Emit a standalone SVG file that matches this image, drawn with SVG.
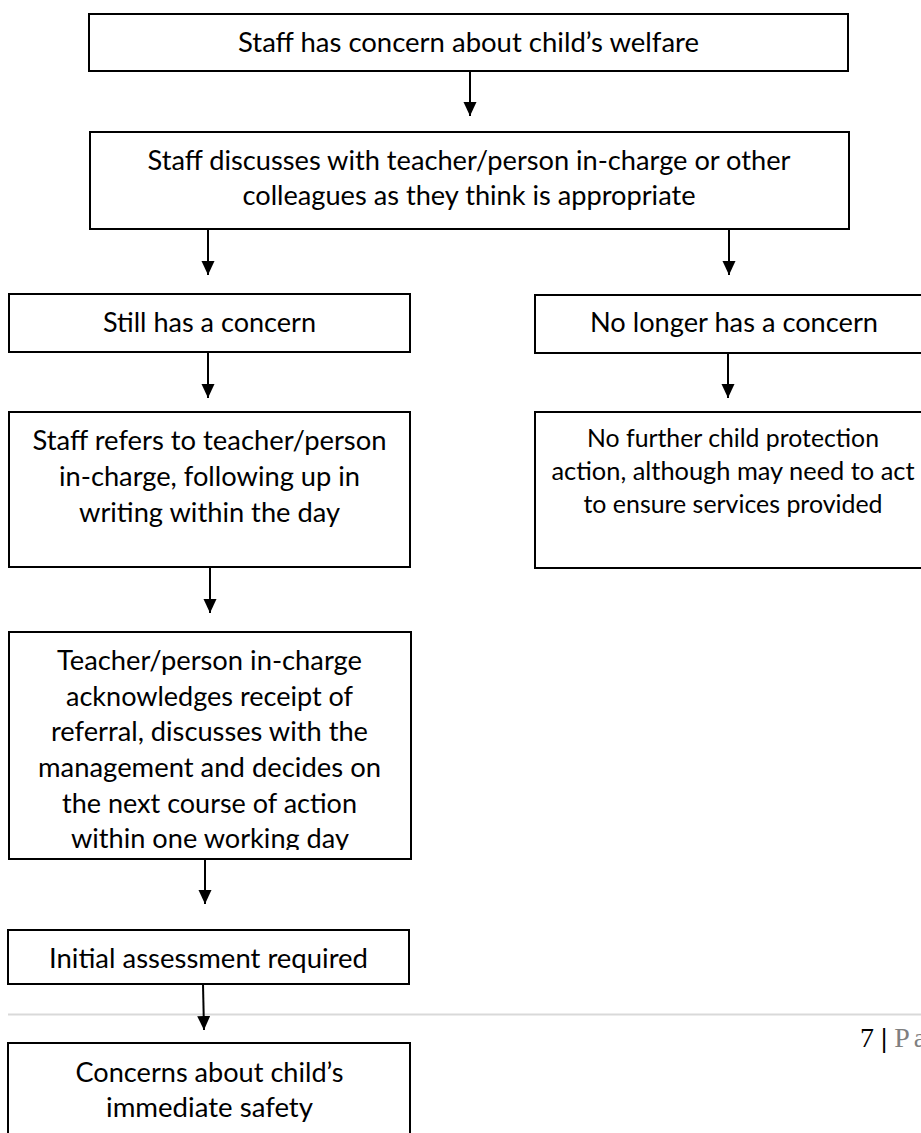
<svg xmlns="http://www.w3.org/2000/svg" width="921" height="1133" viewBox="0 0 921 1133">
<style>
.box{fill:#fff;stroke:#000;stroke-width:2}
.t{font-family:Lato,"Open Sans","Liberation Sans",sans-serif;font-size:27px;fill:#000;text-anchor:middle}
.s{font-family:Lato,"Open Sans","Liberation Sans",sans-serif;font-size:24.6px;fill:#000;text-anchor:middle}
.c{stroke:#000;stroke-width:2;fill:none}
</style>
<defs>
<marker id="ah" markerUnits="userSpaceOnUse" markerWidth="15" markerHeight="14" refX="14" refY="6.5" orient="auto">
<path d="M0,0 L14,6.5 L0,13 z" fill="#000"/>
</marker>
<clipPath id="clipTeacher"><rect x="9" y="632" width="402" height="218"/></clipPath>
</defs>
<rect width="921" height="1133" fill="#fff"/>
<line x1="8" y1="1014.5" x2="921" y2="1014.5" stroke="#d9d9d9" stroke-width="2"/>
<g id="connectors">
<line class="c" x1="470" y1="71" x2="470" y2="116" marker-end="url(#ah)"/>
<line class="c" x1="208" y1="229" x2="208" y2="275" marker-end="url(#ah)"/>
<line class="c" x1="729" y1="229" x2="729" y2="275" marker-end="url(#ah)"/>
<line class="c" x1="208" y1="352" x2="208" y2="398" marker-end="url(#ah)"/>
<line class="c" x1="728" y1="353" x2="728" y2="398" marker-end="url(#ah)"/>
<line class="c" x1="210" y1="567" x2="210" y2="613" marker-end="url(#ah)"/>
<line class="c" x1="205" y1="859" x2="205" y2="904" marker-end="url(#ah)"/>
<line class="c" x1="203" y1="984" x2="204" y2="1030" marker-end="url(#ah)"/>
</g>
<g id="n1">
<rect class="box" x="89" y="14" width="759" height="57"/>
<text class="t" x="468.5" y="52" textLength="461" lengthAdjust="spacingAndGlyphs">Staff has concern about child’s welfare</text>
</g>
<g id="n2">
<rect class="box" x="90" y="132" width="759" height="97"/>
<text class="t" x="469" y="170" textLength="643" lengthAdjust="spacingAndGlyphs">Staff discusses with teacher/person in-charge or other</text>
<text class="t" x="469" y="205" textLength="453" lengthAdjust="spacingAndGlyphs">colleagues as they think is appropriate</text>
</g>
<g id="n3">
<rect class="box" x="9" y="294" width="401" height="58"/>
<text class="t" x="209.5" y="332" textLength="213" lengthAdjust="spacingAndGlyphs">Still has a concern</text>
</g>
<g id="n4">
<rect class="box" x="535" y="295" width="400" height="58"/>
<text class="t" x="734" y="332" textLength="288" lengthAdjust="spacingAndGlyphs">No longer has a concern</text>
</g>
<g id="n5">
<rect class="box" x="9" y="412" width="401" height="155"/>
<text class="t" x="209.5" y="450" textLength="354" lengthAdjust="spacingAndGlyphs">Staff refers to teacher/person</text>
<text class="t" x="209.5" y="486" textLength="301" lengthAdjust="spacingAndGlyphs">in-charge, following up in</text>
<text class="t" x="209.5" y="522" textLength="261" lengthAdjust="spacingAndGlyphs">writing within the day</text>
</g>
<g id="n6">
<rect class="box" x="535" y="412" width="400" height="156"/>
<text class="s" x="733" y="447" textLength="292" lengthAdjust="spacingAndGlyphs">No further child protection</text>
<text class="s" x="733" y="480" textLength="363" lengthAdjust="spacingAndGlyphs">action, although may need to act</text>
<text class="s" x="733" y="513" textLength="299" lengthAdjust="spacingAndGlyphs">to ensure services provided</text>
</g>
<g id="n7">
<rect class="box" x="9" y="632" width="402" height="227"/>
<g clip-path="url(#clipTeacher)">
<text class="t" x="209.5" y="670" textLength="305" lengthAdjust="spacingAndGlyphs">Teacher/person in-charge</text>
<text class="t" x="209.5" y="706" textLength="287" lengthAdjust="spacingAndGlyphs">acknowledges receipt of</text>
<text class="t" x="209.5" y="741" textLength="317" lengthAdjust="spacingAndGlyphs">referral, discusses with the</text>
<text class="t" x="209.5" y="777" textLength="343" lengthAdjust="spacingAndGlyphs">management and decides on</text>
<text class="t" x="209.5" y="813" textLength="295" lengthAdjust="spacingAndGlyphs">the next course of action</text>
<text class="t" x="210" y="848" textLength="278" lengthAdjust="spacingAndGlyphs">within one working day</text>
</g>
</g>
<g id="n8">
<rect class="box" x="8" y="930" width="401" height="54"/>
<text class="t" x="208.5" y="968" textLength="319" lengthAdjust="spacingAndGlyphs">Initial assessment required</text>
</g>
<g id="n9">
<rect class="box" x="8" y="1043" width="402" height="110"/>
<text class="t" x="209.5" y="1082" textLength="268" lengthAdjust="spacingAndGlyphs">Concerns about child’s</text>
<text class="t" x="209.5" y="1117" textLength="207" lengthAdjust="spacingAndGlyphs">immediate safety</text>
</g>
<g id="footer">
<text x="860" y="1047" font-family="'Liberation Serif',serif" font-size="28px" fill="#000">7 <tspan font-weight="bold">|</tspan> <tspan fill="#7f7f7f" letter-spacing="4">Pa</tspan></text>
</g>
</svg>
